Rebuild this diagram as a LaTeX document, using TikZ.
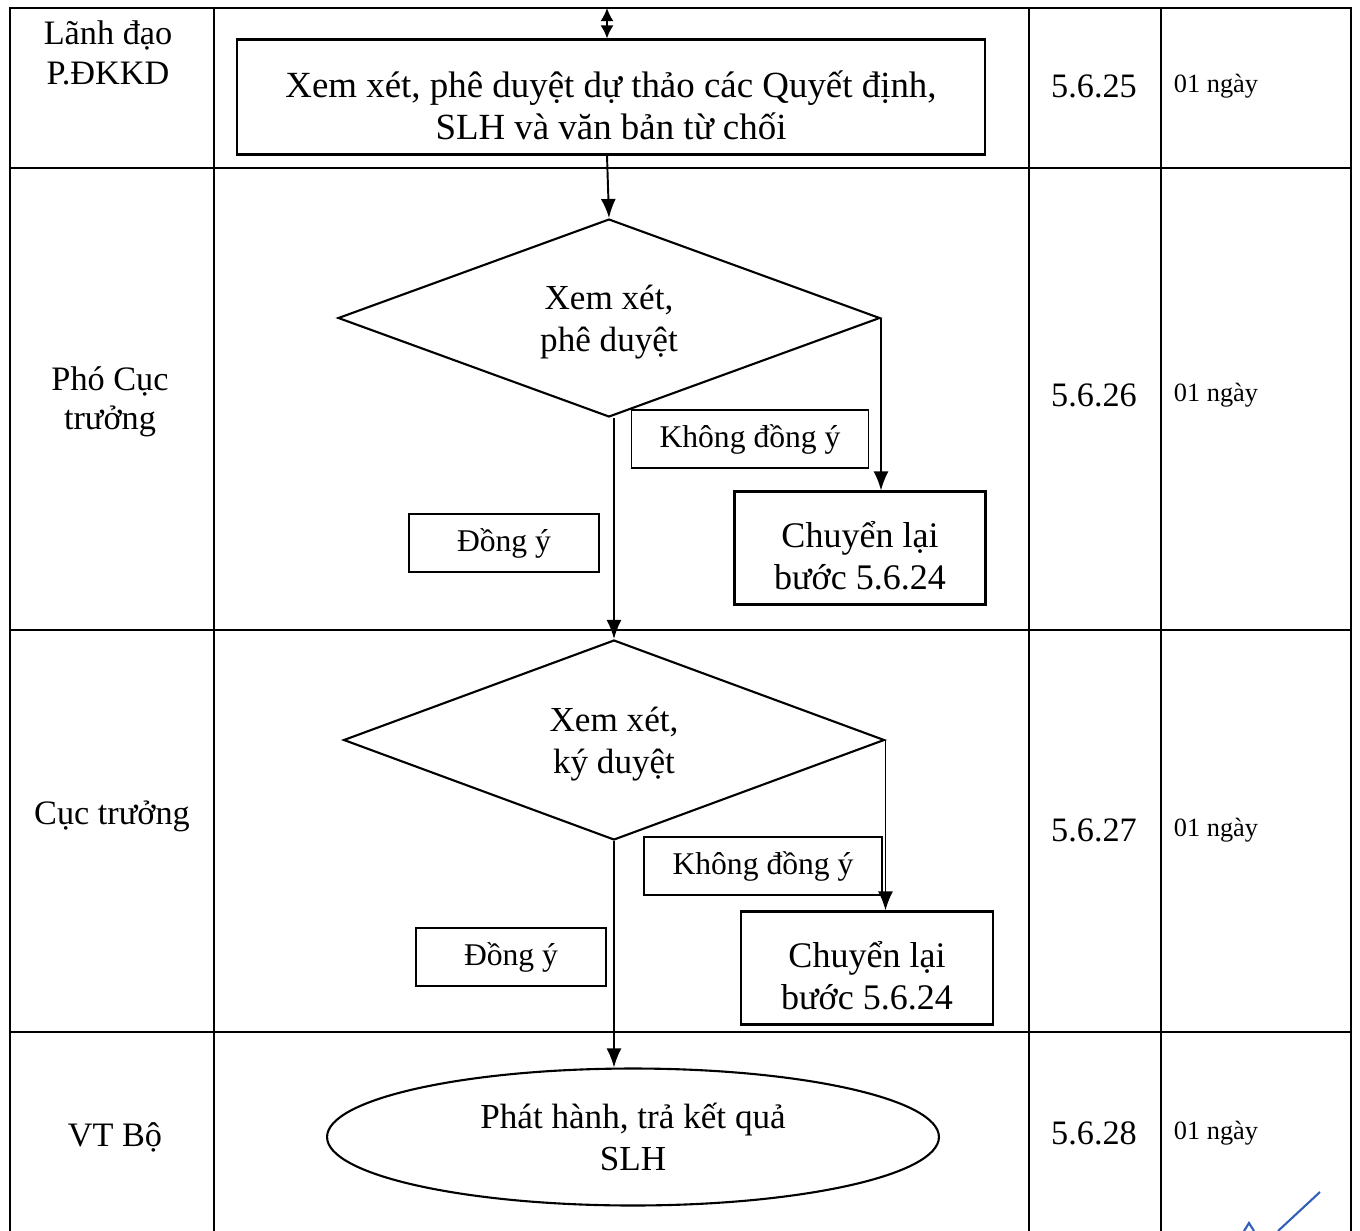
\documentclass[tikz,border=0pt]{standalone}
\usepackage{fontspec}
\setmainfont{Liberation Serif}
\usetikzlibrary{shapes, calc, arrows.meta, positioning}
\definecolor{inkblue}{RGB}{50,95,185}
\tikzset{
        block/.style = {draw, rectangle, line width=1.2pt, text height=47pt, text depth=0pt,
            align=center, font=\fontsize{20.5}{24}\selectfont},
        tag/.style = {draw, rectangle, line width=1.1pt,
            minimum height=1.16cm, font=\fontsize{18}{22}\selectfont},
        decision/.style = {draw, diamond, aspect=2.7, inner sep=0pt, text depth=0pt,
            line width=1.2pt, align=center, font=\fontsize{20}{24}\selectfont},
        terminal/.style = {draw, ellipse, line width=1.2pt,
            align=center, font=\fontsize{20}{24}\selectfont},
        role/.style = {align=center, font=\fontsize{19.5}{22.5}\selectfont},
        stepno/.style = {font=\fontsize{19.5}{22.5}\selectfont},
        days/.style = {font=\fontsize{15}{18}\selectfont},
        tableline/.style = {line width=1.3pt},
        arrow/.style = {draw, line width=1.1pt, -{Latex[length=3.8mm,width=3mm]}},
}
\begin{document}
\begin{tikzpicture}[x=0.02cm, y=-0.02cm]
\useasboundingbox (0,0) rectangle (1360,1231);
\draw [tableline] (10,1231) -- (10,8) -- (1351,8) -- (1351,1231);
\foreach \x in {214, 1029, 1161} \draw [tableline] (\x,8) -- (\x,1231);
\foreach \y in {168, 630, 1032} \draw [tableline] (10,\y) -- (1351,\y);

\node [role] (lead) at (108,53) {Lãnh đạo\\P.ĐKKD};
\node [role] (deputy) at (110,402) {Phó Cục\\trưởng};
\node [role] (director) at (112,816) {Cục trưởng};
\node [role] (office) at (115,1137) {VT Bộ};
\foreach \n/\y in {25/86, 26/395, 27/830, 28/1133} {
    \node [stepno] (s\n) at (1094,\y) {5.6.\n};
    \node [days] (t\n) at (1216,\y) {01 ngày};
}

\node [block, text height=48pt, font=\fontsize{21}{24}\selectfont, minimum width=14.96cm, minimum height=2.3cm] (review) at (611,97) {Xem xét, phê duyệt dự thảo các Quyết định,\\SLH và văn bản từ chối};
\coordinate (prev) at (607,8);
\node [decision, minimum width=10.84cm, minimum height=3.96cm] (approve) at (609,318) {Xem xét,\\phê duyệt};
\node [tag, minimum width=4.74cm] (no1) at (750,439) {Không đồng ý};
\node [tag, minimum width=3.8cm] (yes1) at (504,543) {Đồng ý};
\node [block, minimum width=5.02cm, minimum height=2.26cm] (back1) at (860,548) {Chuyển lại\\bước 5.6.24};
\node [decision, minimum width=10.82cm, minimum height=4cm] (check) at (614,740) {Xem xét,\\ký duyệt};
\node [tag, minimum width=4.76cm] (no2) at (763,866) {Không đồng ý};
\node [tag, minimum width=3.8cm] (yes2) at (511,957) {Đồng ý};
\node [block, minimum width=5.04cm, minimum height=2.26cm] (back2) at (867,968) {Chuyển lại\\bước 5.6.24};
\node [terminal, minimum width=12.24cm, minimum height=2.74cm] (release) at (633,1137) {Phát hành, trả kết quả\\SLH};

\draw [line width=1.1pt, {Latex[length=2.6mm,width=2.6mm]}-{Latex[length=2.6mm,width=2.6mm]}] (prev) -- (prev |- review.north);
\draw [arrow] (review.south -| prev) -- (approve.north);
\draw [arrow] (approve.east) -- (approve.east |- back1.north);
\draw [arrow] (approve.south -| check.north) -- (check.north);
\draw [arrow] (check.east) -- (check.east |- back2.north);
\draw [arrow] (check.south) -- (check.south |- release.north);

\draw [inkblue, line width=1.2pt] (1320,1192) -- (1278,1231);
\draw [inkblue, line width=1.2pt] (1244,1231) -- (1249,1223) -- (1254,1231);
\end{tikzpicture}
\end{document}
